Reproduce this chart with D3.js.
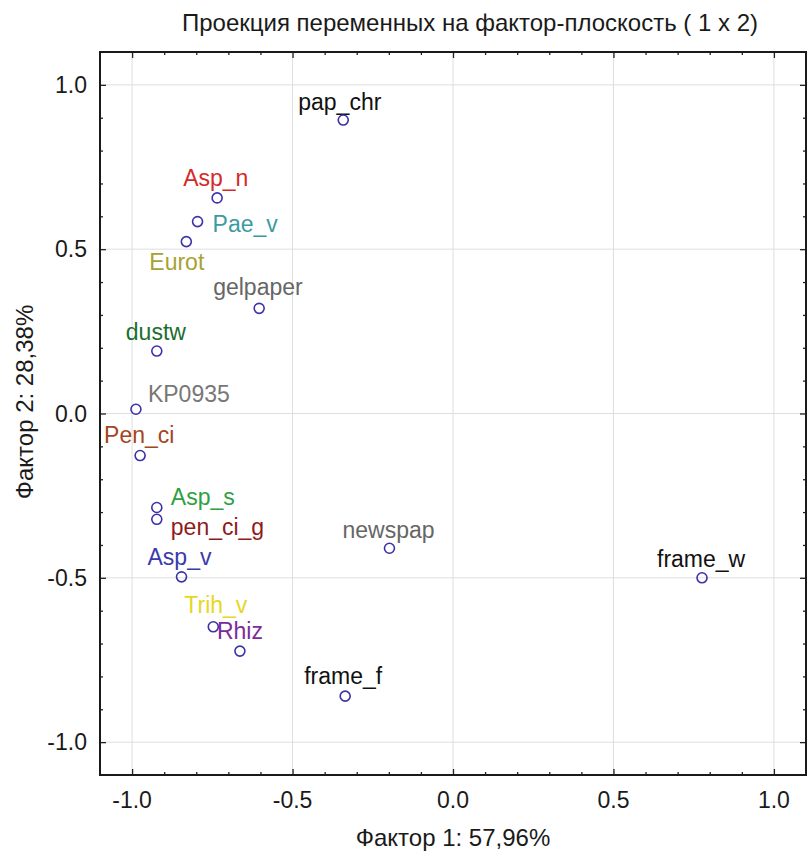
<!DOCTYPE html>
<html>
<head>
    <meta charset="utf-8">
    <script src="https://cdn.jsdelivr.net/npm/d3@7"></script>
    <style>
        body { margin: 0; background: #fff; }
        text { font-family: "Liberation Sans", Arial, sans-serif; }
    </style>
</head>
<body>
    <script>
        // variable names and their loadings on factor 1 / factor 2
        var names = ["pap_chr", "Asp_n", "Pae_v", "Eurot", "gelpaper", "dustw", "KP0935", "Pen_ci",
                     "Asp_s", "pen_ci_g", "Asp_v", "Trih_v", "Rhiz", "newspap", "frame_f", "frame_w"];
        var factor1 = [-0.342, -0.735, -0.796, -0.831, -0.604, -0.923, -0.988, -0.975,
                       -0.923, -0.923, -0.846, -0.747, -0.664, -0.198, -0.336, 0.776];
        var factor2 = [0.893, 0.656, 0.584, 0.523, 0.320, 0.190, 0.013, -0.128,
                       -0.286, -0.322, -0.497, -0.649, -0.723, -0.410, -0.860, -0.500];
        var labelColors = ["#111111", "#d42a2a", "#3c9ba2", "#a8a232", "#666666", "#1c6e2c", "#777777", "#a3461e",
                           "#2ea043", "#8e1c1c", "#3a3aae", "#e6d722", "#7c2c98", "#666666", "#111111", "#111111"];
        var tickValues = [-1.0, -0.5, 0.0, 0.5, 1.0];
        var title = "Проекция переменных на фактор-плоскость ( 1 x 2)";
        var xTitle = "Фактор 1: 57,96%";
        var yTitle = "Фактор 2: 28,38%";

        // label offsets (start x, baseline y) relative to the point, set by hand
        var labelOffset = {
            pap_chr: [-45, -10], Asp_n: [-34, -12], Pae_v: [15, 10], Eurot: [-37, 28],
            gelpaper: [-46, -13], dustw: [-31, -11], KP0935: [12, -7], Pen_ci: [-36, -13],
            Asp_s: [14, -2], pen_ci_g: [14, 16], Asp_v: [-34, -12], Trih_v: [-29, -14],
            Rhiz: [-23, -12], newspap: [-47, -10], frame_f: [-41, -12], frame_w: [-45, -11]
        };

        var width = 809, height = 857;
        var margin = {top: 52, right: 3, bottom: 82, left: 100};

        var svg = d3.select("body").append("svg")
            .attr("width", width)
            .attr("height", height);

        var x = d3.scaleLinear().domain([-1.1, 1.1]).range([margin.left, width - margin.right]);
        var y = d3.scaleLinear().domain([-1.1, 1.1]).range([height - margin.bottom, margin.top]);

        var minorTicks = d3.range(-10, 11).map(function(i) { return i / 10; });
        var fmt = function(d) { return d3.format(".1f")(d).replace("−", "-"); };

        // grid
        var grid = svg.append("g").attr("class", "grid");
        grid.selectAll("line.gx").data(tickValues).enter().append("line")
            .attr("x1", function(d) { return x(d); }).attr("x2", function(d) { return x(d); })
            .attr("y1", y(1.1)).attr("y2", y(-1.1))
            .attr("stroke", "#dedede").attr("stroke-width", 1);
        grid.selectAll("line.gy").data(tickValues).enter().append("line")
            .attr("y1", function(d) { return y(d); }).attr("y2", function(d) { return y(d); })
            .attr("x1", x(-1.1)).attr("x2", x(1.1))
            .attr("stroke", "#dedede").attr("stroke-width", 1);

        // axes with inward ticks on all four sides
        function isMajor(v) { return Math.abs(v * 2 - Math.round(v * 2)) < 1e-6; }

        function addAxis(axisFn, scale, transform) {
            var horizontal = axisFn === d3.axisBottom || axisFn === d3.axisTop;
            var sign = (axisFn === d3.axisBottom || axisFn === d3.axisRight) ? -1 : 1;
            var g = svg.append("g").attr("transform", transform);
            g.call(axisFn(scale).tickValues(minorTicks).tickSizeInner(-3).tickSizeOuter(0).tickFormat(""));
            g.selectAll(".tick line").filter(function(d) { return isMajor(d); })
                .attr(horizontal ? "y2" : "x2", sign * 6);
            g.select(".domain").remove();
            g.selectAll(".tick line").attr("stroke", "#222").attr("stroke-width", 1.3);
            return g;
        }
        addAxis(d3.axisBottom, x, "translate(0," + y(-1.1) + ")");
        addAxis(d3.axisTop, x, "translate(0," + y(1.1) + ")");
        addAxis(d3.axisLeft, y, "translate(" + x(-1.1) + ",0)");
        addAxis(d3.axisRight, y, "translate(" + x(1.1) + ",0)");

        // frame
        svg.append("rect")
            .attr("x", x(-1.1)).attr("y", y(1.1))
            .attr("width", x(1.1) - x(-1.1)).attr("height", y(-1.1) - y(1.1))
            .attr("fill", "none").attr("stroke", "#1a1a1a").attr("stroke-width", 2);

        // tick labels
        svg.append("g").selectAll("text").data(tickValues).enter().append("text")
            .attr("x", function(d) { return x(d); })
            .attr("y", 808)
            .attr("text-anchor", "middle")
            .style("font-size", "23px")
            .attr("fill", "#1a1a1a")
            .text(fmt);
        svg.append("g").selectAll("text").data(tickValues).enter().append("text")
            .attr("x", x(-1.1) - 13)
            .attr("y", function(d) { return y(d) + 8; })
            .attr("text-anchor", "end")
            .style("font-size", "23px")
            .attr("fill", "#1a1a1a")
            .text(fmt);

        // titles
        svg.append("text")
            .attr("x", 470).attr("y", 31)
            .attr("text-anchor", "middle")
            .style("font-size", "24px")
            .attr("fill", "#1a1a1a")
            .text(title);
        svg.append("text")
            .attr("x", 453).attr("y", 846)
            .attr("text-anchor", "middle")
            .style("font-size", "24px")
            .attr("fill", "#1a1a1a")
            .text(xTitle);
        svg.append("text")
            .attr("transform", "translate(33,402) rotate(-90)")
            .attr("text-anchor", "middle")
            .style("font-size", "24px")
            .attr("fill", "#1a1a1a")
            .text(yTitle);

        // points and labels
        var points = names.map(function(n, i) {
            return {name: n, f1: factor1[i], f2: factor2[i], color: labelColors[i]};
        });

        var pts = svg.append("g").selectAll("g").data(points).enter().append("g")
            .attr("transform", function(d) { return "translate(" + x(d.f1) + "," + y(d.f2) + ")"; });

        pts.append("text")
            .attr("x", function(d) { return labelOffset[d.name][0]; })
            .attr("y", function(d) { return labelOffset[d.name][1]; })
            .style("font-size", "23px")
            .attr("fill", function(d) { return d.color; })
            .text(function(d) { return d.name; });

        pts.append("circle")
            .attr("r", 5)
            .attr("fill", "none")
            .attr("stroke", "#3b32a8")
            .attr("stroke-width", 1.6);
    </script>
</body>
</html>
